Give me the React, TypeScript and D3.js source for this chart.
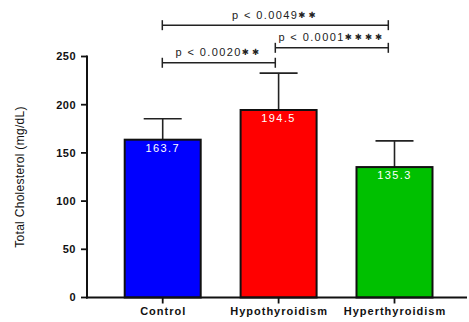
import React from "react";
import * as d3 from "d3";

const categories = ["Control", "Hypothyroidism", "Hyperthyroidism"];
const means = [163.7, 194.5, 135.3];
const sds = [21.8, 38.3, 27.2];
const barColors = ["#0000FF", "#FF0000", "#00C000"];
const yTicks = [0, 50, 100, 150, 200, 250];
const comparisons = [
  { from: 0, to: 1, level: 243.5, p: "p < 0.0020", stars: "✱✱" },
  { from: 1, to: 2, level: 259, p: "p < 0.0001", stars: "✱✱✱✱" },
  { from: 0, to: 2, level: 282.5, p: "p < 0.0049", stars: "✱✱" },
];

const W = 469;
const H = 322;
const FONT = "'Liberation Sans', Arial, Helvetica, sans-serif";

export default function App() {
  const y = d3.scaleLinear().domain([0, 250]).range([297.5, 56.5]);
  const x = d3.scalePoint<string>().domain(categories).range([162.7, 394.5]);
  const bx = d3.scaleLinear().domain([0, 2]).range([162.3, 388.3]);
  const barW = 76;
  const capW = 38;
  const axisX = 87;

  return (
    <svg
      width={W}
      height={H}
      style={{ position: "absolute", left: 0, top: 0, background: "#fff" }}
      fontFamily={FONT}
    >
      {/* bars */}
      {categories.map((c, i) => {
        const cx = x(c)!;
        const top = y(means[i]);
        const errTop = y(means[i] + sds[i]);
        return (
          <g key={c}>
            <line x1={cx} x2={cx} y1={top} y2={errTop} stroke="#222" strokeWidth={1.6} />
            <line x1={cx - capW / 2} x2={cx + capW / 2} y1={errTop} y2={errTop} stroke="#222" strokeWidth={1.6} />
            <rect
              x={cx - barW / 2}
              y={top}
              width={barW}
              height={y(0) - top}
              fill={barColors[i]}
              stroke="#111"
              strokeWidth={2}
            />
            <text
              x={cx}
              y={top + 12}
              textAnchor="middle"
              fill="#fff"
              fontSize={11}
              letterSpacing={1.4}
            >
              {means[i].toFixed(1)}
            </text>
          </g>
        );
      })}

      {/* y axis */}
      <line x1={axisX} x2={axisX} y1={y(250) - 1} y2={y(0) + 1} stroke="#111" strokeWidth={2} />
      {yTicks.map((t) => (
        <g key={t}>
          <line x1={axisX - 6} x2={axisX} y1={y(t)} y2={y(t)} stroke="#111" strokeWidth={1.8} />
          <text
            x={axisX - 11}
            y={y(t)}
            dy="0.36em"
            textAnchor="end"
            fontSize={11}
            fontWeight="bold"
            letterSpacing={0.5}
            fill="#111"
          >
            {t}
          </text>
        </g>
      ))}
      <text
        transform={`translate(24,${(y(0) + y(250)) / 2}) rotate(-90)`}
        textAnchor="middle"
        fontSize={12}
        letterSpacing={0.3}
        fill="#111"
      >
        Total Cholesterol (mg/dL)
      </text>

      {/* x axis */}
      <line x1={axisX - 1} x2={467} y1={y(0)} y2={y(0)} stroke="#111" strokeWidth={2} />
      {categories.map((c) => (
        <g key={c}>
          <line x1={x(c)!} x2={x(c)!} y1={y(0)} y2={y(0) + 6} stroke="#111" strokeWidth={1.8} />
          <text
            x={x(c)! + 0.5}
            y={315}
            textAnchor="middle"
            fontSize={11}
            fontWeight="bold"
            letterSpacing={1}
            fill="#111"
          >
            {c}
          </text>
        </g>
      ))}

      {/* significance brackets */}
      {comparisons.map((cmp, k) => {
        const x1 = bx(cmp.from);
        const x2 = bx(cmp.to);
        const ly = y(cmp.level);
        return (
          <g key={k}>
            <line x1={x1} x2={x2} y1={ly} y2={ly} stroke="#222" strokeWidth={1.5} />
            <line x1={x1} x2={x1} y1={ly - 5} y2={ly + 5} stroke="#222" strokeWidth={1.5} />
            <line x1={x2} x2={x2} y1={ly - 5} y2={ly + 5} stroke="#222" strokeWidth={1.5} />
            <text
              x={(x1 + x2) / 2}
              y={ly - 6.5}
              textAnchor="middle"
              fontSize={11}
              letterSpacing={1.4}
              fill="#222"
            >
              {cmp.p}
              <tspan fontSize={8.5} letterSpacing={3} fontFamily="'DejaVu Sans', sans-serif" dy={-1}>
                {cmp.stars}
              </tspan>
            </text>
          </g>
        );
      })}
    </svg>
  );
}
